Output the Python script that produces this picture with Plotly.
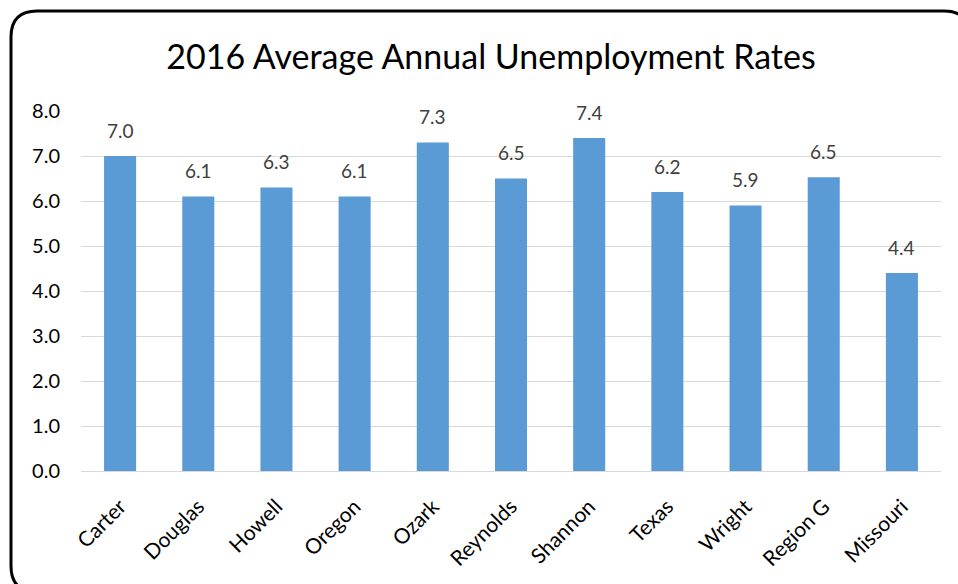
import plotly.graph_objects as go

categories = ["Carter", "Douglas", "Howell", "Oregon", "Ozark", "Reynolds",
              "Shannon", "Texas", "Wright", "Region G", "Missouri"]
rates = [7.0, 6.1, 6.3, 6.1, 7.3, 6.5, 7.4, 6.2, 5.9, 6.53, 4.4]
y_ticks = [0, 1, 2, 3, 4, 5, 6, 7, 8]
title_text = "2016 Average Annual Unemployment Rates"

W, H = 958, 584
L, R, T, B = 81, 17, 111, 113
FONT = "Lato, Carlito, Calibri, sans-serif"

fig = go.Figure()
fig.add_trace(go.Bar(x=categories, y=rates, marker=dict(color="#5B9BD5", line=dict(width=0)),
                     hoverinfo="x+y"))

for c, v in zip(categories, rates):
    fig.add_annotation(x=c, y=v, text=f"{v:.1f}", showarrow=False, yshift=26,
                       font=dict(family=FONT, size=19, color="#404040"))

pw, ph = W - L - R, H - T - B
def px(x):
    return (x - L) / pw
def py(y):
    return (H - B - y) / ph

x0, y0, x1, y1, r = 11, 11, 970, 592, 26
path = (f"M {px(x0)},{py(y0 + r)} Q {px(x0)},{py(y0)} {px(x0 + r)},{py(y0)} "
        f"L {px(x1 - r)},{py(y0)} Q {px(x1)},{py(y0)} {px(x1)},{py(y0 + r)} "
        f"L {px(x1)},{py(y1 - r)} Q {px(x1)},{py(y1)} {px(x1 - r)},{py(y1)} "
        f"L {px(x0 + r)},{py(y1)} Q {px(x0)},{py(y1)} {px(x0)},{py(y1 - r)} Z")
fig.add_shape(type="path", path=path, xref="paper", yref="paper",
              line=dict(color="black", width=3), layer="above")

fig.update_layout(
    width=W, height=H,
    margin=dict(l=L, r=R, t=T, b=B),
    paper_bgcolor="white", plot_bgcolor="white",
    bargap=0.59,
    showlegend=False,
    title=dict(text=title_text, x=491 / W, xanchor="center", y=1 - 57 / H, yanchor="middle",
               font=dict(family=FONT, size=34, color="black")),
    xaxis=dict(tickangle=-45, tickfont=dict(family=FONT, size=21, color="black"),
               showgrid=False, showline=True, linecolor="#D9D9D9", linewidth=1,
               ticks="", ticklabelstandoff=14, fixedrange=True),
    yaxis=dict(range=[0, 8], tickvals=y_ticks, tickformat=".1f",
               tickfont=dict(family=FONT, size=20, color="black"),
               showgrid=True, gridcolor="#D9D9D9", gridwidth=1, zeroline=False,
               showline=False, ticks="", ticklabelstandoff=20, fixedrange=True),
)

fig.write_html("out.html", config={"displayModeBar": False})

with open("out.html", "r", encoding="utf-8") as f:
    html = f.read()
html = html.replace("<head>", "<head><style>html,body{margin:0;padding:0;overflow:hidden;}</style>", 1)
with open("out.html", "w", encoding="utf-8") as f:
    f.write(html)
